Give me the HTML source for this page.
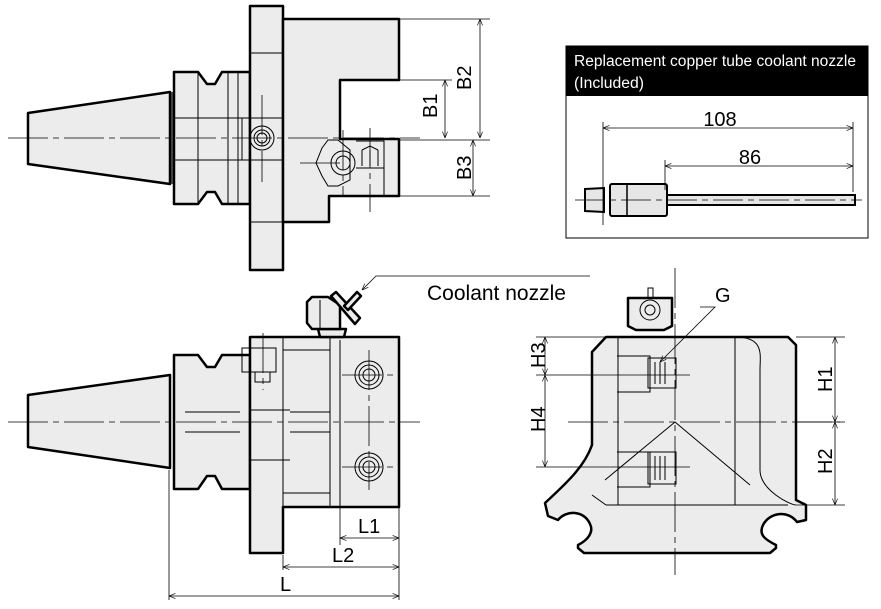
<!DOCTYPE html>
<html><head><meta charset="utf-8"><style>
html,body{margin:0;padding:0;background:#fff;}
svg{display:block;}
text{font-family:"Liberation Sans",sans-serif;}
</style></head><body>
<svg width="881" height="609" viewBox="0 0 881 609" xmlns="http://www.w3.org/2000/svg">
<defs>
<marker id="a" viewBox="0 0 10 10" refX="10" refY="5" markerWidth="8" markerHeight="8" orient="auto-start-reverse"><path d="M0,1 L10,5 L0,9" fill="none" stroke="#000" stroke-width="1"/></marker>
</defs>
<g fill="#ececec" stroke="#000" stroke-width="2.5" stroke-linejoin="round">
<!-- TOP VIEW -->
<path d="M28,113 L170,92 L170,184 L28,164 Z"/>
<path d="M174,72 L198,72 L207,84 L215,84 L222,72 L250,72 L250,204 L222,204 L215,192 L207,192 L198,204 L174,204 Z"/>
<path d="M250,6 L283,6 L283,270 L250,270 Z"/>
<path d="M283,19 L399,19 L399,80 L340,80 L340,139 L399,139 L399,196 L329,196 L329,222 L283,222 Z"/>
<!-- BOTTOM VIEW -->
<path d="M28,395 L170,375 L170,468 L28,447 Z"/>
<path d="M174,355 L198,355 L207,367 L215,367 L222,355 L250,355 L250,489 L222,489 L215,476 L207,476 L198,489 L174,489 Z"/>
<path d="M250,337 L399,337 L399,507 L283,507 L283,553 L250,553 Z"/>
<path d="M318,329 L346,329 L344,337 L320,337 Z"/>
<path d="M312,297 L328,297 L340,305 L340,329 L312,329 L307,323 L307,302 Z"/>
<path d="M331,296 L336,292 L360,318 L355,324 Z"/>
<path d="M344,306 L357,292 L361,296 L348,310 Z"/>
<!-- RIGHT VIEW -->
<path d="M606,337 L788,337 L796,345 L796,500 L806,505 L806,520 L797,522 C788,510 770,512 763,525 C758,535 766,540 776,545 L776,548 L770,553 L584,553 L578,548 L578,545 C588,540 594,532 590,524 C584,510 566,510 558,520 L548,516 L545,503 C570,480 585,465 592,445 L592,352 Z"/>
<path d="M628,298 L672,298 L672,326 L664,330 L636,330 L628,326 Z"/>
</g>
<g fill="none" stroke="#000" stroke-width="1">
<path d="M174,118 H242 M174,160 H242 M242,118 V160 H283 M242,118 H283 M198,72 V204 M228,72 V204 M238,72 V204 M250,53 H283 M250,222 H283 M172,92 V184"/>
<circle cx="262" cy="138" r="12"/><circle cx="262" cy="138" r="8"/><circle cx="262" cy="138" r="5"/>
<path d="M322,148 L328,140 L338,140 L350,150 L350,180 L338,186 L328,186 L322,176 L316,163 Z"/>
<circle cx="343" cy="163" r="12"/><circle cx="343" cy="163" r="7"/>
<path d="M356,141 H384 V196 M356,168 H384 M362,150 L370,146 L378,150 M362,150 V166 M370,150 V166 M378,150 V166"/>
<path d="M283,337 V507 M330,337 V507 M283,350 H330 M283,493 H330 M250,410 H290 M250,460 H290 M340,340 V507 M242,348 H276 V372 H242 Z M255,372 V382 H270 V372 M185,412 H240 M185,432 H240 M290,412 H330 M290,432 H330 M320,300 V329"/>
<circle cx="369" cy="375" r="14"/><circle cx="369" cy="375" r="10"/><circle cx="369" cy="375" r="6"/>
<circle cx="369" cy="467" r="14"/><circle cx="369" cy="467" r="10"/><circle cx="369" cy="467" r="6"/>
<path d="M618,337 V505 M735,337 V505 M606,505 H788 M592,495 L606,505 M735,337 C765,337 760,355 760,370 V470 C760,490 790,505 796,505 M617,356 H650 V392 H617 M617,452 H650 V487 H617 M648,358 H676 V388 H648 Z M648,452 H676 V484 H648 Z M655,362 V384 M660,362 V384 M665,362 V384 M655,456 V480 M660,456 V480 M665,456 V480"/>
<circle cx="650" cy="310" r="10"/><circle cx="650" cy="310" r="5"/>
<path d="M648,298 V288 H653 V298"/>
<path d="M605,480 L675,422 L750,485"/>
</g>
<g stroke="#000" stroke-width="0.8" fill="none" stroke-dasharray="40,5,6,5">
<path d="M8,138 H420"/><path d="M8,422 H420"/><path d="M568,422 H840"/><path d="M675,268 V575"/>
<path d="M262,95 V182 M343,130 V196 M370,128 V212 M340,163 H300"/>
<path d="M369,350 V490 M342,375 H398 M342,467 H398 M263,333 V390"/>
</g>
<g stroke="#000" stroke-width="0.8" fill="none">
<path d="M400,19 H490 M400,80 H452 M400,140 H490 M400,196 H490"/>
<path d="M480,19 V138" marker-start="url(#a)" marker-end="url(#a)"/>
<path d="M445,80 V138" marker-start="url(#a)" marker-end="url(#a)"/>
<path d="M473,140 V196" marker-start="url(#a)" marker-end="url(#a)"/>
<path d="M340,508 V545 M399,508 V600 M283,555 V570 M169,470 V600"/>
<path d="M340,538 H399" marker-start="url(#a)" marker-end="url(#a)"/>
<path d="M283,567 H399" marker-start="url(#a)" marker-end="url(#a)"/>
<path d="M169,596 H399" marker-start="url(#a)" marker-end="url(#a)"/>
<path d="M590,276 H376 L362,290" marker-end="url(#a)"/>
<path d="M700,307 H715 L660,362" marker-end="url(#a)"/>
<path d="M536,337 H606 M536,375 H690 M536,467 H690 M796,337 H845 M796,422 H845 M796,505 H845"/>
<path d="M545,337 V375" marker-start="url(#a)" marker-end="url(#a)"/>
<path d="M545,375 V467" marker-start="url(#a)" marker-end="url(#a)"/>
<path d="M835,337 V422" marker-start="url(#a)" marker-end="url(#a)"/>
<path d="M835,422 V505" marker-start="url(#a)" marker-end="url(#a)"/>
</g>
<!-- insert box -->
<rect x="566" y="46" width="302" height="192" fill="#fff" stroke="#000" stroke-width="1"/>
<rect x="566" y="46" width="302" height="50" fill="#000"/>
<text x="574" y="66" fill="#fff" font-size="15.5" textLength="282" lengthAdjust="spacingAndGlyphs">Replacement copper tube coolant nozzle</text>
<text x="574" y="88" fill="#fff" font-size="15.5" textLength="70" lengthAdjust="spacingAndGlyphs">(Included)</text>
<g fill="#e6e6e6" stroke="#000" stroke-width="2">
<path d="M585,189 L604,188 V212 L585,211 Z"/>
<rect x="610" y="184" width="57" height="32" rx="2"/>
<rect x="667" y="195" width="188" height="10"/>
</g>
<path d="M627,184 V216" stroke="#000" stroke-width="1.5"/>
<g stroke="#000" stroke-width="0.8" fill="none">
<path d="M603,122 V225 M853,122 V192 M665,160 V190"/>
<path d="M603,128 H853" marker-start="url(#a)" marker-end="url(#a)"/>
<path d="M665,166 H853" marker-start="url(#a)" marker-end="url(#a)"/>
<path d="M575,200 H862" stroke-dasharray="30,5,6,5"/>
</g>
<text x="720" y="126" font-size="20" text-anchor="middle">108</text>
<text x="750" y="164" font-size="20" text-anchor="middle">86</text>
<g font-size="20">
<text transform="translate(471,90) rotate(-90)">B2</text>
<text transform="translate(437,118) rotate(-90)">B1</text>
<text transform="translate(471,180) rotate(-90)">B3</text>
<text x="358" y="533">L1</text>
<text x="332" y="562">L2</text>
<text x="280" y="591">L</text>
<text transform="translate(545,368) rotate(-90)">H3</text>
<text transform="translate(545,432) rotate(-90)">H4</text>
<text transform="translate(832,392) rotate(-90)">H1</text>
<text transform="translate(832,474) rotate(-90)">H2</text>
<text x="715" y="302">G</text>
<text x="427" y="300" font-size="21">Coolant nozzle</text>
</g>
</svg>
</body></html>
